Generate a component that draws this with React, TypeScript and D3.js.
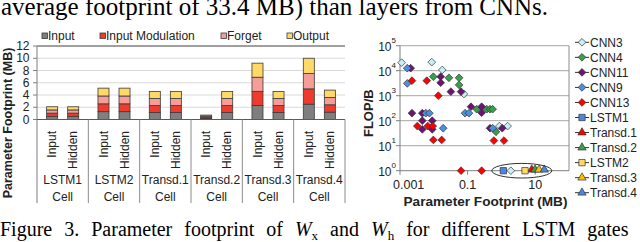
import { useRef, useEffect } from "react";
import * as d3 from "d3";

// ---- left chart: parameter footprint per gate (MB) ----
const cells = ["LSTM1", "LSTM2", "Transd.1", "Transd.2", "Transd.3", "Transd.4"];
const weightTypes = ["Input", "Hidden"];
const gates = ["Input", "Input Modulation", "Forget", "Output"];
const gateColors = ["#7f7f7f", "#ee3b2e", "#f59d99", "#ffd966"];
// one value per bar, in order LSTM1 Input, LSTM1 Hidden, LSTM2 Input, ...
const inputGateMB = [0.52, 0.52, 1.28, 1.28, 1.14, 1.14, 0.18, 1.14, 2.3, 1.14, 2.5, 1.2];
const modulationGateMB = [0.52, 0.52, 1.28, 1.28, 1.14, 1.14, 0.18, 1.14, 2.3, 1.14, 2.5, 1.2];
const forgetGateMB = [0.52, 0.52, 1.28, 1.28, 1.14, 1.14, 0.18, 1.14, 2.3, 1.14, 2.5, 1.2];
const outputGateMB = [0.52, 0.52, 1.28, 1.28, 1.14, 1.14, 0.18, 1.14, 2.3, 1.14, 2.5, 1.2];
const barTicks = [0, 2, 4, 6, 8, 10, 12];

// ---- right chart: [parameter footprint MB, FLOP/B] ----
const cnn3 = [[0.00112, 21000], [0.0087, 22000], [0.0178, 10700], [0.078, 1170], [0.87, 61], [1.53, 61], [1.9, 1]];
const cnn4 = [[0.0097, 5750], [0.028, 5200], [0.056, 5200], [0.056, 2700], [0.186, 288], [0.37, 288], [0.46, 288], [0.55, 288], [0.69, 36]];
const cnn11 = [[0.00207, 12600], [0.016, 5750], [0.016, 3300], [0.032, 1450], [0.064, 1450], [0.00226, 200], [0.00457, 200],
  [0.00457, 100], [0.009, 100], [0.00457, 45], [0.009, 45], [0.126, 363], [0.26, 363], [0.26, 209], [0.46, 50], [1.06, 50]];
const cnn9 = [[0.00164, 12600], [0.00164, 3100], [0.0058, 200], [0.0074, 200], [0.019, 50], [0.084, 200], [0.11, 200], [0.55, 50]];
const cnn13 = [[0.00226, 4000], [0.0062, 4000], [0.0136, 1000], [0.00325, 61], [0.0066, 61], [0.0093, 61], [0.0097, 17],
  [0.0171, 17], [0.6, 16], [1.19, 16], [0.064, 1], [0.26, 1]];
const lstm1 = [[1.14, 1]];
const transd1 = [[7.9, 1]];
const transd2 = [[9.9, 1]];
const lstm2 = [[5.0, 1]];
const transd3 = [[13, 1]];
const transd4 = [[18.6, 1]];
const seriesNames = ["CNN3", "CNN4", "CNN11", "CNN9", "CNN13", "LSTM1", "Transd.1", "Transd.2", "LSTM2", "Transd.3", "Transd.4"];
const seriesData = [cnn3, cnn4, cnn11, cnn9, cnn13, lstm1, transd1, transd2, lstm2, transd3, transd4];
const seriesColors = ["#c8eef4", "#3a9e4f", "#6c1470", "#4a8fe0", "#ff0000", "#4a86e8", "#ff0000", "#3a9e4f", "#ffd966", "#ffc000", "#4a86e8"];
const seriesShapes = ["diamond", "diamond", "diamond", "diamond", "diamond", "square", "triangle", "triangle", "square", "triangle", "triangle"];
const yTickPowers = [0, 1, 2, 3, 4, 5];
const xTicks = [0.001, 0.1, 10];
const highlightRange = [0.52, 31]; // oval around the LSTM layers

const App = () => {
  const svgRef = useRef<SVGSVGElement>(null);

  useEffect(() => {
    const svg = d3.select(svgRef.current);
    svg.selectAll("*").remove();
    const sans = "'Liberation Sans', Arial, sans-serif";
    const serif = "'Liberation Serif', 'Times New Roman', serif";

    // text of the page around the figure
    svg.append("text")
      .attr("x", 1).attr("y", 15)
      .attr("font-family", serif).attr("font-size", 25)
      .text("average footprint of 33.4 MB) than layers from CNNs.");

    const cap = svg.append("text")
      .attr("x", 0).attr("y", 236)
      .attr("font-family", serif).attr("font-size", 20)
      .attr("word-spacing", 7);
    cap.append("tspan").text("Figure 3. Parameter footprint of ");
    cap.append("tspan").attr("font-style", "italic").text("W");
    cap.append("tspan").attr("font-size", 13).attr("dy", 4).text("x");
    cap.append("tspan").attr("dy", -4).text(" and ");
    cap.append("tspan").attr("font-style", "italic").text("W");
    cap.append("tspan").attr("font-size", 13).attr("dy", 4).text("h");
    cap.append("tspan").attr("dy", -4).text(" for different LSTM gates");

    // ===== bar chart =====
    const left = 37, right = 345, top = 46, base = 119.5, lower = 203;
    const x0 = d3.scaleBand().domain(cells).range([left, right]);
    const x1 = d3.scaleBand().domain(weightTypes).range([0, x0.bandwidth()])
      .paddingInner(0.476).paddingOuter(0.458);
    const y = d3.scaleLinear().domain([0, 12]).range([base, top]);

    const g = svg.append("g").attr("font-family", sans);

    // 網格線
    g.selectAll(".grid")
      .data(barTicks.slice(1, -1))
      .join("line")
      .attr("x1", left).attr("x2", right)
      .attr("y1", (d) => y(d)).attr("y2", (d) => y(d))
      .attr("stroke", "#d9d9d9");
    g.append("line")
      .attr("x1", left).attr("x2", right).attr("y1", y(12)).attr("y2", y(12))
      .attr("stroke", "#404040");

    // stacked bars
    const rows = cells.flatMap((c, i) =>
      weightTypes.map((w, j) => {
        const k = i * 2 + j;
        return {
          cell: c, weight: w,
          "Input": inputGateMB[k],
          "Input Modulation": modulationGateMB[k],
          "Forget": forgetGateMB[k],
          "Output": outputGateMB[k],
        };
      })
    );
    const stacked = d3.stack().keys(gates)(rows as any);
    stacked.forEach((layer, li) => {
      g.selectAll(".seg" + li)
        .data(layer)
        .join("rect")
        .attr("x", (d: any) => x0(d.data.cell)! + x1(d.data.weight)!)
        .attr("width", x1.bandwidth())
        .attr("y", (d) => y(d[1]))
        .attr("height", (d) => y(d[0]) - y(d[1]))
        .attr("fill", gateColors[li])
        .attr("stroke", "#3a3a3a")
        .attr("stroke-width", 0.8);
    });

    // axes
    g.append("line").attr("x1", left).attr("x2", left).attr("y1", top).attr("y2", lower).attr("stroke", "#7f7f7f");
    g.append("line").attr("x1", left).attr("x2", right).attr("y1", base).attr("y2", base).attr("stroke", "#595959");
    g.selectAll(".sep")
      .data(cells.slice(1).map((c) => x0(c)!).concat([right]))
      .join("line")
      .attr("x1", (d) => d).attr("x2", (d) => d)
      .attr("y1", base).attr("y2", lower)
      .attr("stroke", "#8c8c8c");
    g.selectAll(".ytick")
      .data(barTicks)
      .join("line")
      .attr("x1", left - 4).attr("x2", left)
      .attr("y1", (d) => y(d)).attr("y2", (d) => y(d))
      .attr("stroke", "#7f7f7f");
    g.selectAll(".ylab")
      .data(barTicks)
      .join("text")
      .attr("x", 29.5).attr("y", (d) => y(d)).attr("dy", "0.35em")
      .attr("text-anchor", "end").attr("font-size", 12).attr("fill", "#222")
      .text((d) => d);

    // rotated bar labels
    g.selectAll(".wlab")
      .data(rows)
      .join("text")
      .attr("transform", (d) => `translate(${x0(d.cell)! + x1(d.weight)! + x1.bandwidth() / 2},131) rotate(-90)`)
      .attr("dy", "0.35em")
      .attr("text-anchor", "end").attr("font-size", 12).attr("fill", "#222")
      .text((d) => d.weight);
    // group labels
    const cl = g.selectAll(".clab")
      .data(cells)
      .join("text")
      .attr("x", (d) => x0(d)! + x0.bandwidth() / 2)
      .attr("text-anchor", "middle").attr("font-size", 12).attr("fill", "#222");
    cl.append("tspan").attr("x", (d) => x0(d)! + x0.bandwidth() / 2).attr("y", 184).text((d) => d);
    cl.append("tspan").attr("x", (d) => x0(d)! + x0.bandwidth() / 2).attr("y", 201).text("Cell");

    g.append("text")
      .attr("transform", "translate(8,123) rotate(-90)")
      .attr("dy", "0.35em").attr("text-anchor", "middle")
      .attr("font-size", 12.5).attr("font-weight", "bold").attr("fill", "#222")
      .text("Parameter Footprint (MB)");

    // legend
    const legendX = [42, 100, 221, 287];
    gates.forEach((name, i) => {
      g.append("rect")
        .attr("x", legendX[i]).attr("y", 33).attr("width", 5.5).attr("height", 5.5)
        .attr("fill", gateColors[i]).attr("stroke", "#3a3a3a").attr("stroke-width", 0.8);
      g.append("text")
        .attr("x", legendX[i] + 6).attr("y", 36).attr("dy", "0.35em")
        .attr("font-size", 12).attr("fill", "#222")
        .text(name);
    });

    // ===== scatter chart =====
    const sl = 400, sr = 569, st = 45.7, sb = 170.7;
    const xs = d3.scaleLog().domain([0.001, 100]).range([sl, sr]);
    const ys = d3.scaleLog().domain([1, 1e5]).range([sb, st]);
    const s = svg.append("g").attr("font-family", sans);

    s.selectAll(".sgrid")
      .data(yTickPowers.slice(1))
      .join("line")
      .attr("x1", sl).attr("x2", sr)
      .attr("y1", (p) => ys(10 ** p)).attr("y2", (p) => ys(10 ** p))
      .attr("stroke", "#a6a6a6");
    s.append("line").attr("x1", sr).attr("x2", sr).attr("y1", st).attr("y2", sb).attr("stroke", "#8c8c8c");
    s.append("line").attr("x1", sl).attr("x2", sl).attr("y1", st).attr("y2", sb).attr("stroke", "#7f7f7f");
    s.append("line").attr("x1", sl).attr("x2", sr).attr("y1", sb).attr("y2", sb).attr("stroke", "#7f7f7f");
    s.selectAll(".sytick")
      .data(yTickPowers)
      .join("line")
      .attr("x1", sl - 4).attr("x2", sl)
      .attr("y1", (p) => ys(10 ** p)).attr("y2", (p) => ys(10 ** p))
      .attr("stroke", "#7f7f7f");
    s.selectAll(".sxtick")
      .data(xTicks)
      .join("line")
      .attr("x1", (d) => xs(d)).attr("x2", (d) => xs(d))
      .attr("y1", sb).attr("y2", sb + 4)
      .attr("stroke", "#7f7f7f");

    const yl = s.selectAll(".sylab")
      .data(yTickPowers)
      .join("text")
      .attr("x", 396).attr("y", (p) => ys(10 ** p))
      .attr("text-anchor", "end").attr("font-size", 12).attr("fill", "#222");
    yl.append("tspan").attr("dy", "0.4em").text("10");
    yl.append("tspan").attr("font-size", 8).attr("dy", "-0.9em").text((p) => p);

    // first label is pushed inside the chart area, like Excel does
    s.selectAll(".sxlab")
      .data(xTicks)
      .join("text")
      .attr("x", (d, i) => (i === 0 ? 393 : xs(d))).attr("y", 189)
      .attr("text-anchor", (d, i) => (i === 0 ? "start" : "middle"))
      .attr("font-size", 12.5).attr("fill", "#222")
      .text((d) => String(d));

    s.append("text")
      .attr("x", (sl + sr) / 2 + 1).attr("y", 206)
      .attr("text-anchor", "middle").attr("font-size", 13.6).attr("font-weight", "bold").attr("fill", "#222")
      .text("Parameter Footprint (MB)");
    s.append("text")
      .attr("transform", `translate(368,${(st + sb) / 2 + 5}) rotate(-90)`)
      .attr("dy", "0.35em").attr("text-anchor", "middle")
      .attr("font-size", 13).attr("font-weight", "bold").attr("fill", "#222")
      .text("FLOP/B");

    const symbolOf = (shape: string) => {
      if (shape === "square") return d3.symbol().type(d3.symbolSquare).size(40)();
      if (shape === "triangle") return d3.symbol().type(d3.symbolTriangle).size(30)();
      return d3.symbol().type(d3.symbolDiamond2).size(38)();
    };

    // 數據點
    seriesData.forEach((pts, i) => {
      s.selectAll(".pt" + i)
        .data(pts)
        .join("path")
        .attr("d", symbolOf(seriesShapes[i]))
        .attr("transform", (d) => `translate(${xs(d[0])},${ys(d[1]) - (seriesShapes[i] === "triangle" ? 1 : 0)})`)
        .attr("fill", seriesColors[i])
        .attr("stroke", "#333")
        .attr("stroke-width", 0.7);
    });

    // oval around the LSTM points
    const ox0 = xs(highlightRange[0]), ox1 = xs(highlightRange[1]);
    s.append("ellipse")
      .attr("cx", (ox0 + ox1) / 2).attr("cy", ys(1))
      .attr("rx", (ox1 - ox0) / 2).attr("ry", 7.3)
      .attr("fill", "none").attr("stroke", "#333").attr("stroke-width", 1);

    // legend
    seriesNames.forEach((name, i) => {
      const ly = 42.3 + i * 15.04;
      s.append("line").attr("x1", 575).attr("x2", 589).attr("y1", ly).attr("y2", ly).attr("stroke", "#333");
      s.append("path")
        .attr("d", symbolOf(seriesShapes[i]))
        .attr("transform", `translate(582,${ly})`)
        .attr("fill", seriesColors[i]).attr("stroke", "#333").attr("stroke-width", 0.7);
      s.append("text")
        .attr("x", 590).attr("y", ly).attr("dy", "0.35em")
        .attr("font-size", 12).attr("fill", "#222")
        .text(name);
    });
  }, []);

  return (
    <svg
      ref={svgRef}
      width={640}
      height={242}
      style={{ position: "absolute", left: 0, top: 0, background: "#fff" }}
    ></svg>
  );
};

export default App;
